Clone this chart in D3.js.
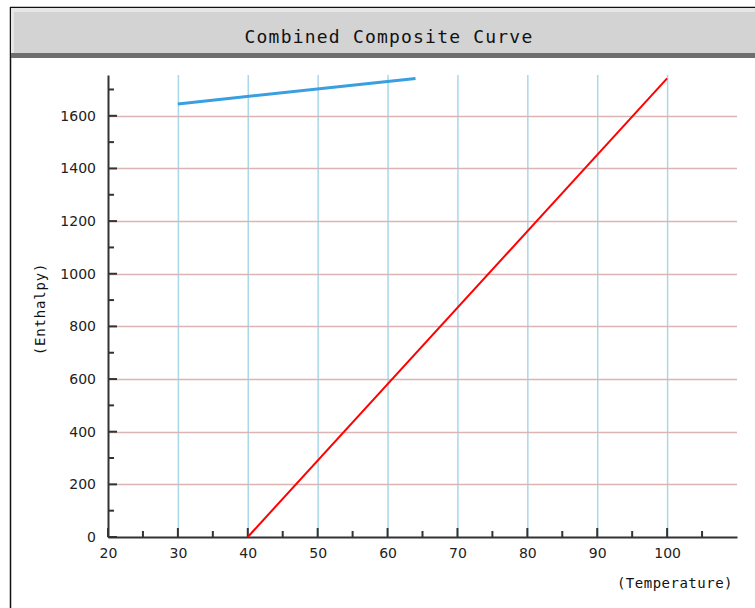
<!DOCTYPE html>
<html>
<head>
<meta charset="utf-8">
<script src="https://cdn.jsdelivr.net/npm/d3@7"></script>
<style>
  html, body { margin: 0; padding: 0; background: #fff; }
  svg { display: block; }
</style>
</head>
<body>
<script>
// ---- data ----
const title = "Combined Composite Curve";
const xLabel = "(Temperature)";
const yLabel = "(Enthalpy)";
const xTicks = [20, 30, 40, 50, 60, 70, 80, 90, 100];
const yTicks = [0, 200, 400, 600, 800, 1000, 1200, 1400, 1600];
const coldCurveT = [30, 64];
const coldCurveH = [1645, 1742];
const hotCurveT = [40, 100];
const hotCurveH = [0, 1742];

const W = 755, H = 608;
const svg = d3.select("body").append("svg").attr("width", W).attr("height", H);

// frame
svg.append("line").attr("x1", 10.5).attr("x2", 10.5).attr("y1", 7).attr("y2", H).attr("stroke", "#111").attr("stroke-width", 1.5);
svg.append("line").attr("x1", 10).attr("x2", W).attr("y1", 7.5).attr("y2", 7.5).attr("stroke", "#111").attr("stroke-width", 1.5);
// title bar
svg.append("rect").attr("x", 11).attr("y", 8).attr("width", W - 11).attr("height", 50).attr("fill", "#6e6e6e");
svg.append("rect").attr("x", 11).attr("y", 8).attr("width", W - 11).attr("height", 45).attr("fill", "#e6e6e6");
svg.append("rect").attr("x", 14).attr("y", 12).attr("width", W - 14).attr("height", 41).attr("fill", "#d3d3d3");
svg.append("text").attr("x", 389).attr("y", 43)
  .attr("text-anchor", "middle")
  .style("font-family", "'DejaVu Sans Mono', monospace")
  .style("font-size", "18px").style("letter-spacing", "1.2px")
  .attr("fill", "#111").text(title);

// scales
const x = d3.scaleLinear().domain([20, 110]).range([108, 737]);
const y = d3.scaleLinear().domain([0, 1755]).range([537, 75]);

// grid
const g = svg.append("g");
g.selectAll(".vg").data(xTicks.filter(d => d > 20)).enter().append("line")
  .attr("x1", d => x(d) + 0.5).attr("x2", d => x(d) + 0.5)
  .attr("y1", y(1755)).attr("y2", y(0))
  .attr("stroke", "#a8d8ea").attr("stroke-width", 1.5);
g.selectAll(".hg").data(yTicks.filter(d => d > 0)).enter().append("line")
  .attr("x1", x(20)).attr("x2", x(110))
  .attr("y1", d => Math.round(y(d)) + 0.5).attr("y2", d => Math.round(y(d)) + 0.5)
  .attr("stroke", "#dbb4b4").attr("stroke-width", 1.5);

// axes
const axisColor = "#333";
const xMinor = d3.range(25, 110, 10);
const yMinor = d3.range(100, 1755, 200);

const xAxis = svg.append("g").attr("transform", `translate(0,${y(0)})`)
  .call(d3.axisBottom(x).tickValues(xTicks).tickSize(0).tickPadding(11).tickFormat(d3.format("d")));
xAxis.select(".domain").attr("stroke", axisColor).attr("stroke-width", 2);
xAxis.selectAll("text").style("font-family", "'DejaVu Sans', sans-serif").style("font-size", "14px").attr("fill", "#222");

const yAxis = svg.append("g").attr("transform", `translate(${x(20)},0)`)
  .call(d3.axisLeft(y).tickValues(yTicks).tickSize(0).tickPadding(12).tickFormat(d3.format("d")));
yAxis.select(".domain").attr("stroke", axisColor).attr("stroke-width", 2);
yAxis.selectAll("text").style("font-family", "'DejaVu Sans', sans-serif").style("font-size", "14px").attr("fill", "#222");

// inward ticks
svg.selectAll(".xt").data(xTicks.concat(xMinor)).enter().append("line")
  .attr("x1", d => x(d)).attr("x2", d => x(d))
  .attr("y1", y(0)).attr("y2", d => y(0) - (xTicks.includes(d) ? 9 : 6))
  .attr("stroke", axisColor).attr("stroke-width", 2);
svg.selectAll(".yt").data(yTicks.concat(yMinor)).enter().append("line")
  .attr("y1", d => y(d)).attr("y2", d => y(d))
  .attr("x1", x(20)).attr("x2", d => x(20) + (yTicks.includes(d) ? 9 : 6))
  .attr("stroke", axisColor).attr("stroke-width", 2);

// axis labels
svg.append("text").attr("x", 733).attr("y", 588).attr("text-anchor", "end")
  .style("font-family", "'DejaVu Sans Mono', monospace").style("font-size", "14px").style("letter-spacing", "0.5px")
  .attr("fill", "#111").text(xLabel);
svg.append("text").attr("transform", "translate(45,309) rotate(-90)").attr("text-anchor", "middle")
  .style("font-family", "'DejaVu Sans Mono', monospace").style("font-size", "14px").style("letter-spacing", "0.8px")
  .attr("fill", "#111").text(yLabel);

// curves
const line = d3.line().x(d => x(d[0])).y(d => y(d[1]));
svg.append("path").datum(coldCurveT.map((t, i) => [t, coldCurveH[i]]))
  .attr("d", line).attr("fill", "none").attr("stroke", "#3a9fe0").attr("stroke-width", 3);
svg.append("path").datum(hotCurveT.map((t, i) => [t, hotCurveH[i]]))
  .attr("d", line).attr("fill", "none").attr("stroke", "#ff0000").attr("stroke-width", 2);
</script>
</body>
</html>
